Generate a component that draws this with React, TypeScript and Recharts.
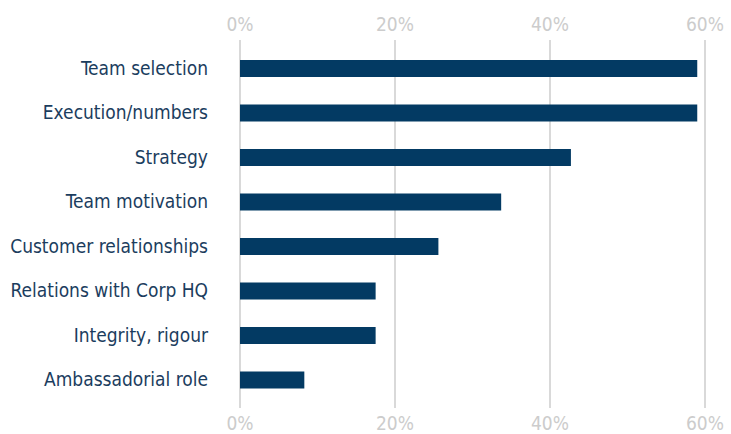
import { BarChart, Bar, XAxis, YAxis, CartesianGrid } from 'recharts';

const categories = [
  'Team selection',
  'Execution/numbers',
  'Strategy',
  'Team motivation',
  'Customer relationships',
  'Relations with Corp HQ',
  'Integrity, rigour',
  'Ambassadorial role',
];
const shares = [59, 59, 42.7, 33.7, 25.6, 17.5, 17.5, 8.3];
const ticks = [0, 20, 40, 60];

const data = categories.map((name, i) => ({ name, share: shares[i] }));

const FONT = '"DejaVu Sans Condensed", "Liberation Sans Narrow", "Open Sans", sans-serif';

export default function App() {
  return (
    <div style={{ position: 'absolute', left: 0, top: 0, background: '#fff' }}>
      <BarChart
        width={731}
        height={434}
        data={data}
        layout="vertical"
        barGap={-17}
        margin={{ top: 10, right: 26, left: 0, bottom: 0 }}
      >
        <CartesianGrid horizontal={false} stroke="#d9d9d9" strokeWidth={2} xAxisId="bottom" />
        <XAxis
          xAxisId="top"
          orientation="top"
          type="number"
          domain={[0, 60]}
          ticks={ticks}
          tickFormatter={(v) => `${v}%`}
          axisLine={false}
          tickLine={false}
          tickSize={0}
          tickMargin={9}
          height={30}
          tick={{ fill: '#cccccc', fontSize: 19, fontFamily: FONT }}
        />
        <XAxis
          xAxisId="bottom"
          orientation="bottom"
          type="number"
          domain={[0, 60]}
          ticks={ticks}
          tickFormatter={(v) => `${v}%`}
          axisLine={false}
          tickLine={false}
          tickSize={0}
          tickMargin={9}
          height={26}
          tick={{ fill: '#cccccc', fontSize: 19, fontFamily: FONT }}
        />
        <YAxis
          type="category"
          dataKey="name"
          width={240}
          axisLine={false}
          tickLine={false}
          tickSize={0}
          tickMargin={32}
          padding={{ top: 6, bottom: 6 }}
          tick={{ fill: '#1b3d5e', fontSize: 19, fontFamily: FONT }}
        />
        <Bar
          dataKey="share"
          xAxisId="bottom"
          fill="#033a63"
          barSize={17}
          isAnimationActive={false}
        />
        <Bar
          dataKey="share"
          xAxisId="top"
          fill="#033a63"
          fillOpacity={0}
          barSize={17}
          legendType="none"
          isAnimationActive={false}
        />
      </BarChart>
    </div>
  );
}
